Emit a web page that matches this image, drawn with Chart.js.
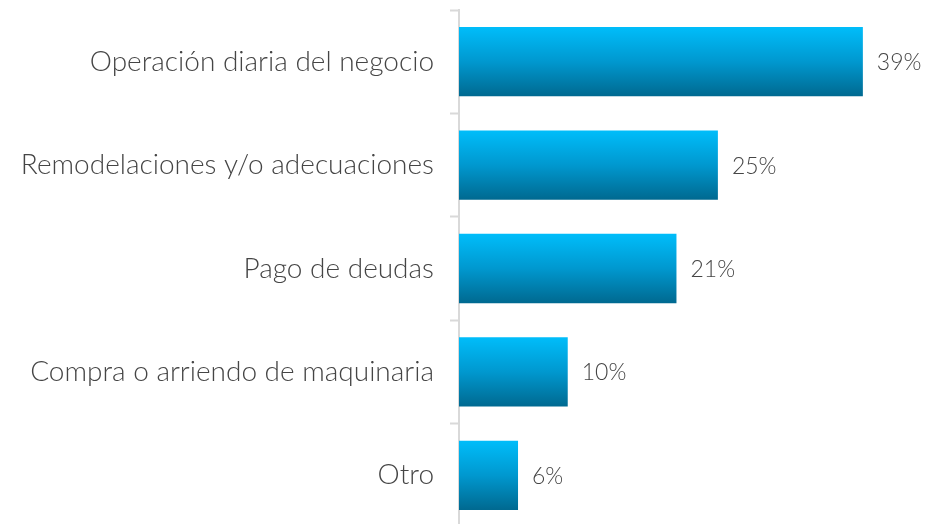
<!DOCTYPE html>
<html>
<head>
<meta charset="utf-8">
<script src="https://cdn.jsdelivr.net/npm/chart.js@4"></script>
<style>
  html, body { margin: 0; padding: 0; background: #fff; }
  #wrap { width: 925px; height: 524px; overflow: hidden; position: relative; }
</style>
</head>
<body>
<div id="wrap">
  <canvas id="chart" width="925" height="534"></canvas>
</div>
<script>
// Data
const categories = [
    'Operación diaria del negocio',
    'Remodelaciones y/o adecuaciones',
    'Pago de deudas',
    'Compra o arriendo de maquinaria',
    'Otro'
];
const values = [39, 25, 21, 10.5, 5.7];
const valueLabels = ['39%', '25%', '21%', '10%', '6%'];

const fontFamily = "Lato, 'Open Sans', sans-serif";
const textColor = '#454545';
const axisColor = '#d9d9d9';
const barPct = 0.67;

// Vertical gradient per bar (light cyan top -> dark blue bottom)
function barGradient(context) {
    const chart = context.chart;
    const y = chart.scales.y;
    if (!y || context.dataIndex === undefined) return '#0098cf';
    const centre = y.getPixelForValue(context.dataIndex);
    const half = (y.height / categories.length) * barPct / 2;
    if (!isFinite(centre) || !isFinite(half) || half <= 0) return '#0098cf';
    const g = chart.ctx.createLinearGradient(0, centre - half, 0, centre + half);
    g.addColorStop(0, '#00bdfa');
    g.addColorStop(0.5, '#0098cf');
    g.addColorStop(1, '#006990');
    return g;
}

// Percent labels to the right of each bar
const valueLabelsPlugin = {
    id: 'valueLabels',
    afterDatasetsDraw(chart) {
        const ctx = chart.ctx;
        ctx.save();
        ctx.font = '300 23px ' + fontFamily;
        ctx.fillStyle = textColor;
        ctx.textAlign = 'left';
        ctx.textBaseline = 'middle';
        chart.getDatasetMeta(0).data.forEach((bar, i) => {
            ctx.fillText(valueLabels[i], bar.x + 14, bar.y + 1);
        });
        ctx.restore();
    }
};

new Chart(document.getElementById('chart').getContext('2d'), {
    type: 'bar',
    data: {
        labels: categories,
        datasets: [{
            data: values,
            backgroundColor: barGradient,
            borderWidth: 0,
            barPercentage: barPct,
            categoryPercentage: 1
        }]
    },
    plugins: [valueLabelsPlugin],
    options: {
        indexAxis: 'y',
        responsive: false,
        animation: false,
        layout: {
            padding: { top: 10, bottom: 7, left: 0, right: 0 }
        },
        plugins: {
            legend: { display: false },
            tooltip: { enabled: false }
        },
        scales: {
            x: {
                display: false,
                min: 0,
                max: 45
            },
            y: {
                afterFit(scale) {
                    scale.width = 459;
                    scale.paddingTop = 0;
                    scale.paddingBottom = 0;
                },
                border: {
                    display: true,
                    color: axisColor,
                    width: 2
                },
                grid: {
                    drawOnChartArea: false,
                    drawTicks: true,
                    tickLength: 9,
                    tickWidth: 2,
                    tickColor: axisColor,
                    offset: true
                },
                ticks: {
                    padding: 16,
                    color: textColor,
                    font: { family: fontFamily, size: 28, weight: '300' }
                }
            }
        }
    }
});
</script>
</body>
</html>
